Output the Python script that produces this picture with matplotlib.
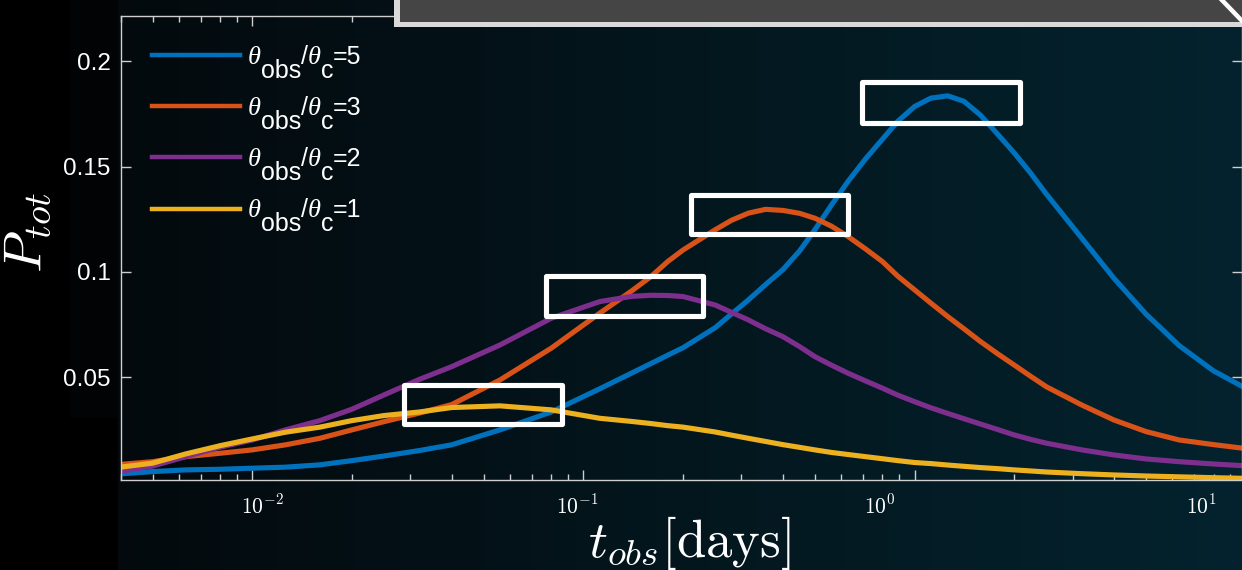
import numpy as np
import matplotlib
matplotlib.use("Agg")
import matplotlib.pyplot as plt
from matplotlib.patches import Rectangle
from matplotlib.lines import Line2D
from matplotlib.ticker import FuncFormatter, NullFormatter, LogLocator

# ---------------------------------------------------------------- data
t_obs = [0.004, 0.005, 0.0063, 0.008, 0.01, 0.0126, 0.016, 0.02, 0.025, 0.032,
         0.04, 0.056, 0.08, 0.112, 0.14, 0.16, 0.18, 0.2, 0.25, 0.28,
         0.315, 0.355, 0.4, 0.45, 0.5, 0.56, 0.63, 0.71, 0.8, 0.89,
         1.0, 1.12, 1.26, 1.41, 1.58, 1.78, 2.0, 2.24, 2.5, 3.2,
         4.0, 5.0, 6.3, 8.0, 9.8]

p_tot_5 = [0.0041, 0.0052, 0.0060, 0.0063, 0.0068, 0.0073, 0.0084, 0.0104, 0.0126, 0.0152,
           0.0179, 0.0250, 0.0335, 0.0445, 0.0520, 0.0565, 0.0605, 0.0640, 0.0735, 0.0800,
           0.0867, 0.0940, 0.1010, 0.1100, 0.1200, 0.1315, 0.1430, 0.1535, 0.1630, 0.1715,
           0.1785, 0.1825, 0.1836, 0.1810, 0.1745, 0.1655, 0.1565, 0.1470, 0.1370, 0.1160,
           0.0970, 0.0800, 0.0650, 0.0530, 0.0455]

p_tot_3 = [0.0086, 0.0099, 0.0123, 0.0139, 0.0155, 0.0179, 0.0210, 0.0250, 0.0289, 0.0330,
           0.0370, 0.0487, 0.0638, 0.0804, 0.0910, 0.0978, 0.1050, 0.1104, 0.1200, 0.1245,
           0.1279, 0.1297, 0.1292, 0.1278, 0.1255, 0.1218, 0.1168, 0.1110, 0.1049, 0.0980,
           0.0915, 0.0852, 0.0788, 0.0730, 0.0670, 0.0612, 0.0558, 0.0505, 0.0455, 0.0368,
           0.0297, 0.0242, 0.0202, 0.0180, 0.0163]

p_tot_2 = [0.0053, 0.0078, 0.0123, 0.0168, 0.0202, 0.0250, 0.0294, 0.0348, 0.0416, 0.0490,
           0.0550, 0.0653, 0.0780, 0.0859, 0.0884, 0.0889, 0.0888, 0.0883, 0.0843, 0.0808,
           0.0772, 0.0730, 0.0693, 0.0645, 0.0598, 0.0558, 0.0519, 0.0483, 0.0448, 0.0415,
           0.0384, 0.0355, 0.0328, 0.0303, 0.0278, 0.0252, 0.0226, 0.0205, 0.0187, 0.0155,
           0.0131, 0.0112, 0.0099, 0.0088, 0.0080]

p_tot_1 = [0.0073, 0.0092, 0.0136, 0.0175, 0.0207, 0.0239, 0.0263, 0.0294, 0.0318, 0.0335,
           0.0356, 0.0364, 0.0345, 0.0305, 0.0290, 0.0280, 0.0270, 0.0263, 0.0240, 0.0225,
           0.0210, 0.0195, 0.0180, 0.0167, 0.0155, 0.0143, 0.0133, 0.0123, 0.0113, 0.0104,
           0.0095, 0.0090, 0.0083, 0.0077, 0.0071, 0.0066, 0.0060, 0.0055, 0.0050, 0.0042,
           0.0036, 0.0031, 0.0027, 0.0023, 0.0020]

angle_ratios = ["5", "3", "2", "1"]
series = [p_tot_5, p_tot_3, p_tot_2, p_tot_1]
colors = ["#0072BD", "#D95319", "#7E2F8E", "#EDB120"]

y_ticks = [0.05, 0.1, 0.15, 0.2]
x_tick_texts = [r"$10^{-2}$", r"$10^{-1}$", r"$10^{0}$", r"$10^{1}$"]

# ---------------------------------------------------------------- style
plt.rcParams["font.family"] = ["Liberation Sans", "DejaVu Sans"]

W, H = 1242, 570
fig = plt.figure(figsize=(W / 100, H / 100), dpi=100)


def fx(x):
    return x / W


def fy(y):
    return 1 - y / H


# dark gradient backdrop
bg = fig.add_axes([0, 0, 1, 1], zorder=-10)
bg.set_axis_off()
cols = np.linspace(0, 1, W)[:, None]
c0 = np.array([0x04, 0x07, 0x0a]) / 255
c1 = np.array([0x03, 0x23, 0x2e]) / 255
row = c0 + (c1 - c0) * cols
img = np.repeat(row[None, :, :], H, axis=0)
img[:, :118] = np.array([0x01, 0x03, 0x04]) / 255
img[:, :70] = 0.0
img[418:, :118] = 0.0
bg.imshow(img, extent=[0, 1, 0, 1], aspect="auto", origin="upper")
bg.set_xlim(0, 1)
bg.set_ylim(0, 1)

# main axes
ax = fig.add_axes([fx(120.5), fy(480), fx(1242) - fx(120.5), fy(16) - fy(480)])
ax.set_facecolor("none")
ax.set_xscale("log")

handles = []
for vals, c in zip(series, colors):
    ax.plot(t_obs, vals, color=c, lw=3.7, solid_joinstyle="round")
    handles.append(Line2D([], [], color=c, lw=3.2))

ax.set_xlim(0.004, 9.75)
ax.set_ylim(0.0012, 0.2215)
ax.set_yticks(y_ticks)
ax.yaxis.set_major_formatter(FuncFormatter(lambda v, _: f"{v:g}"))
ax.xaxis.set_major_locator(LogLocator(base=10))
ax.xaxis.set_minor_locator(LogLocator(base=10, subs=np.arange(2, 10)))
ax.xaxis.set_major_formatter(NullFormatter())
ax.xaxis.set_minor_formatter(NullFormatter())

ax.tick_params(which="both", direction="in", top=True, right=True,
               color="#cfcfcf", width=1.0)
ax.tick_params(which="major", length=7.5)
ax.tick_params(which="minor", length=4)
ax.tick_params(axis="y", labelsize=17.5, labelcolor="white", pad=7)
for s in ax.spines.values():
    s.set_color("#cfcfcf")
    s.set_linewidth(1.0)

# legend: handle + italic theta, the rest of each label is chained after it
leg_size = 18
leg = ax.legend(handles=handles, labels=["\u03b8"] * len(handles), loc="upper left",
                bbox_to_anchor=(fx(152), fy(46)), bbox_transform=fig.transFigure,
                frameon=False, fontsize=leg_size, handlelength=3.5, handletextpad=0.32,
                labelspacing=1.15, borderpad=0, borderaxespad=0)
drop = 14
serif_it = dict(family="Liberation Serif", style="italic")
sans = dict(family="Liberation Sans", style="normal")
for txt, r in zip(leg.get_texts(), angle_ratios):
    txt.set_color("white")
    txt.set_fontfamily("Liberation Serif")
    txt.set_fontstyle("italic")
    txt.set_fontsize(19)
    pieces = [("obs", -drop, sans), ("/", drop, sans), ("\u03b8", 0, serif_it),
              ("c", -drop, sans), ("=" + r, drop, sans)]
    prev = txt
    for s, dy, fnt in pieces:
        size = 19 if s == "\u03b8" else leg_size
        prev = ax.annotate(s, xy=(1, 0), xycoords=prev, xytext=(0, dy),
                           textcoords="offset pixels", ha="left", va="bottom",
                           fontsize=size, color="white", zorder=8,
                           annotation_clip=False, **fnt)

# decade labels under the axis
for lbl, xp in zip(x_tick_texts, [262.5, 577, 880, 1201]):
    fig.text(fx(xp), fy(507), lbl, ha="center", va="center", fontsize=15.5,
             color="white", math_fontfamily="cm")

fig.text(fx(689), fy(543), r"$t_{obs}[\mathrm{days}]$", ha="center", va="center",
         fontsize=38, color="white", math_fontfamily="cm")
fig.text(fx(28), fy(232), r"$P_{tot}$", ha="center", va="center", rotation=90,
         fontsize=39, color="white", math_fontfamily="cm")

# highlight boxes around the peaks
boxes = [(404, 385, 562, 424), (546, 276, 703, 316),
         (691, 195, 848, 234), (862, 82, 1020, 123)]
for x0, y0, x1, y1 in boxes:
    fig.add_artist(Rectangle((fx(x0), fy(y1)), fx(x1) - fx(x0), fy(y0) - fy(y1),
                             transform=fig.transFigure, fill=False, ec="white",
                             lw=3.7, joinstyle="round", zorder=5))

# grey panel along the top edge
fig.add_artist(Rectangle((fx(394), fy(27.3)), fx(1260) - fx(394), fy(-5) - fy(27.3),
                         transform=fig.transFigure, fc="#d9d9d9", ec="none", zorder=6))
fig.add_artist(Rectangle((fx(400), fy(21.7)), fx(1260) - fx(400), fy(-5) - fy(21.7),
                         transform=fig.transFigure, fc="#454545", ec="none", zorder=7))
fig.add_artist(Line2D([fx(1219), fx(1245)], [fy(-3), fy(24)],
                      transform=fig.transFigure, color="white", lw=3.2, zorder=8))

fig.savefig("out.png", dpi=100)
